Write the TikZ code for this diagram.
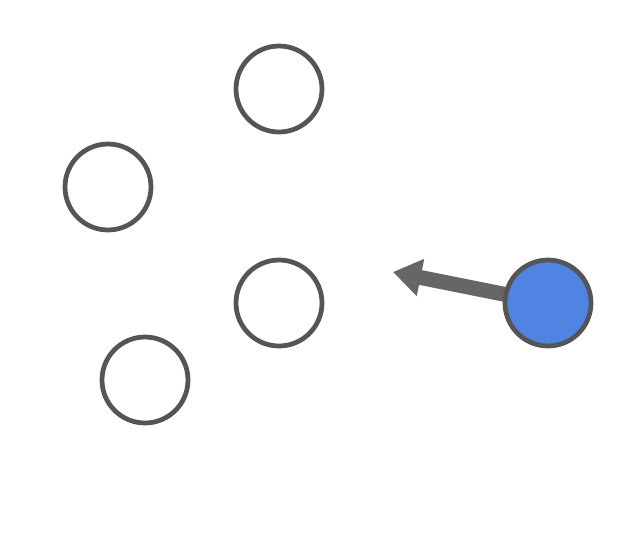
\documentclass[tikz,border=0pt]{standalone}
\usepackage{xcolor}
\usepackage{tikz}
\usetikzlibrary{arrows.meta,backgrounds}

\definecolor{ringgray}{HTML}{555555}
\definecolor{arrowgray}{HTML}{666666}
\definecolor{dotblue}{HTML}{4F84E2}

\begin{document}
\begin{tikzpicture}[x=0.02cm, y=0.02cm]
                \tikzstyle{every node}+=[inner sep=0pt]
                \tikzstyle{ball}=[circle, draw=ringgray, line width=2.7pt, minimum size=1.72cm, fill=white]
                \tikzstyle{push}=[draw=arrowgray, line width=8.5pt, -{Triangle[length=0.56cm, width=0.72cm]}, arrowgray]
                \useasboundingbox (0,0) rectangle (626,-549);
                \node [ball] (top) at (279,-89) {};
                \node [ball] (left) at (108,-187) {};
                \node [ball] (mid) at (279,-303) {};
                \node [ball] (low) at (145,-380) {};
                \node [ball, fill=dotblue] (blue) at (548,-303) {};
                \coordinate (tip) at (393,-272);
                \begin{scope}[on background layer]
                \draw [push] (blue.center) -- (tip);
                \end{scope}
            \end{tikzpicture}
\end{document}
